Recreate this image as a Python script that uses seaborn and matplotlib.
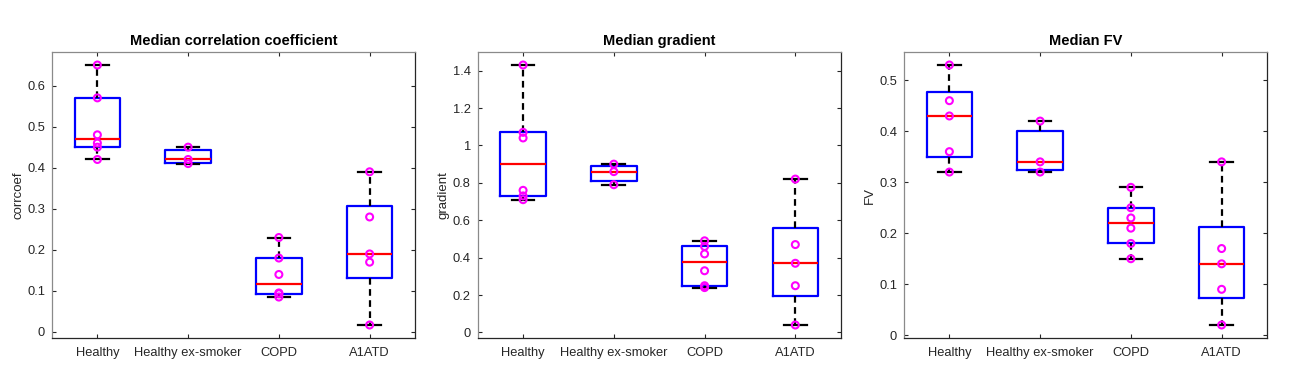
import numpy as np
import pandas as pd
import matplotlib
matplotlib.use("Agg")
import matplotlib.pyplot as plt
import matplotlib.cbook as cbook
import seaborn as sns

# Grupos y valores por panel
groups = ["Healthy", "Healthy ex-smoker", "COPD", "A1ATD"]

corr_healthy = [0.42, 0.45, 0.46, 0.48, 0.57, 0.65]
corr_exsmoker = [0.41, 0.42, 0.45]
corr_copd = [0.085, 0.093, 0.095, 0.14, 0.18, 0.23]
corr_a1atd = [0.017, 0.17, 0.19, 0.28, 0.39]

grad_healthy = [0.71, 0.73, 0.76, 1.04, 1.07, 1.43]
grad_exsmoker = [0.79, 0.86, 0.90]
grad_copd = [0.24, 0.25, 0.33, 0.42, 0.46, 0.49]
grad_a1atd = [0.04, 0.25, 0.37, 0.47, 0.82]

fv_healthy = [0.32, 0.36, 0.43, 0.46, 0.53]
fv_exsmoker = [0.32, 0.34, 0.42]
fv_copd = [0.15, 0.18, 0.21, 0.23, 0.25, 0.29]
fv_a1atd = [0.02, 0.09, 0.14, 0.17, 0.34]

titles = ["Median correlation coefficient", "Median gradient", "Median FV"]
ylabels = ["corrcoef", "gradient", "FV"]
yticks = [np.arange(0, 0.61, 0.1), np.arange(0, 1.41, 0.2), np.arange(0, 0.51, 0.1)]
ylims = [(-0.0147, 0.6817), (-0.0295, 1.4995), (-0.0055, 0.5555)]


def make_df(a, b, c, d):
    rows = []
    for g, vals in zip(groups, [a, b, c, d]):
        rows += [(g, v) for v in vals]
    return pd.DataFrame(rows, columns=["group", "value"])


panels = [
    make_df(corr_healthy, corr_exsmoker, corr_copd, corr_a1atd),
    make_df(grad_healthy, grad_exsmoker, grad_copd, grad_a1atd),
    make_df(fv_healthy, fv_exsmoker, fv_copd, fv_a1atd),
]

# Cuartiles como en MATLAB (prctile -> metodo 'hazen')
_orig_stats = cbook.boxplot_stats


def matlab_stats(X, *args, **kwargs):
    stats = _orig_stats(X, *args, **kwargs)
    for st, x in zip(stats, X):
        x = np.asarray(x, dtype=float)
        q1, q3 = np.percentile(x, [25, 75], method="hazen")
        st["q1"], st["q3"] = q1, q3
        st["whislo"], st["whishi"] = x.min(), x.max()
    return stats


cbook.boxplot_stats = matlab_stats

plt.rcParams["font.family"] = ["Liberation Sans", "DejaVu Sans"]

fig = plt.figure(figsize=(12.93, 3.78), dpi=100)
lefts = [52, 477.7, 904]
W, H = 1293, 378

for i, df in enumerate(panels):
    ax = fig.add_axes([lefts[i] / W, 40 / H, 363 / W, 286 / H])
    sns.boxplot(
        data=df, x="group", y="value", order=groups, ax=ax,
        width=0.5, fill=False, showfliers=False,
        boxprops=dict(color="#0000FF", linewidth=1.6),
        medianprops=dict(color="#FF0000", linewidth=1.6),
        whiskerprops=dict(color="black", linewidth=1.6, linestyle=(0, (3, 2))),
        capprops=dict(color="black", linewidth=1.6),
    )
    sns.stripplot(
        data=df, x="group", y="value", order=groups, ax=ax,
        jitter=False, size=5, color="#FF00FF", facecolor="none",
        edgecolor="#FF00FF", linewidth=1.5, zorder=4,
    )
    ax.set_xlim(-0.5, 3.5)
    ax.set_ylim(*ylims[i])
    ax.set_yticks(yticks[i])
    ax.set_yticklabels([f"{t:g}" for t in yticks[i]])
    ax.set_title(titles[i], fontsize=10.5, fontweight="bold", pad=5)
    ax.set_xlabel("")
    ax.set_ylabel(ylabels[i], fontsize=9.5, color="#262626", labelpad=2)
    ax.tick_params(direction="in", length=3, top=True, right=True,
                   labelsize=9.3, colors="#262626", width=0.8)
    ax.tick_params(axis="x", pad=6.5)
    ax.tick_params(axis="y", pad=5)
    for side in ["left", "top"]:
        ax.spines[side].set_color("#8a8a8a")
    for side in ["right", "bottom"]:
        ax.spines[side].set_color("#262626")
    for s in ax.spines.values():
        s.set_linewidth(0.9)

fig.savefig("out.png", dpi=100)
